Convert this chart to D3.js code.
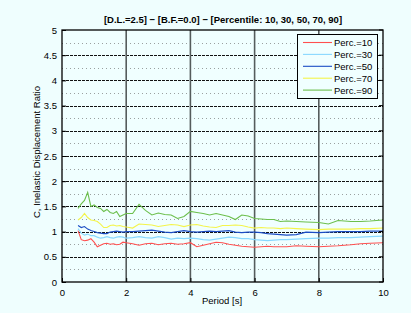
<!DOCTYPE html>
<html><head><meta charset="utf-8">
<script src="https://cdn.jsdelivr.net/npm/d3@7"></script>
<style>
html,body{margin:0;padding:0;background:#effefe;}
svg{display:block;font-family:"Liberation Sans",Arial,sans-serif;}
</style></head>
<body><svg id="c" width="411" height="313"></svg>
<script>
const periods = [0.5,0.6,0.7,0.8,0.9,1.0,1.1,1.2,1.3,1.4,1.5,1.6,1.7,1.8,1.9,2.0,2.2,2.4,2.6,2.8,3.0,3.2,3.4,3.6,3.8,4.0,4.2,4.4,4.6,4.8,5.0,5.2,5.4,5.6,5.8,6.0,6.2,6.4,6.6,6.8,7.0,7.3,7.6,8.0,8.3,8.6,9.0,9.3,9.6,10.0];
const perc10 = [1.02,0.84,0.82,0.83,0.86,0.79,0.70,0.73,0.76,0.77,0.75,0.76,0.74,0.75,0.79,0.78,0.76,0.73,0.76,0.77,0.74,0.76,0.77,0.75,0.76,0.78,0.70,0.73,0.76,0.79,0.78,0.75,0.73,0.71,0.70,0.69,0.70,0.71,0.70,0.70,0.70,0.72,0.71,0.70,0.71,0.72,0.74,0.76,0.77,0.78];
const perc30 = [1.06,0.97,0.93,0.95,0.92,0.92,0.89,0.87,0.88,0.90,0.88,0.87,0.89,0.90,0.89,0.87,0.88,0.90,0.88,0.87,0.90,0.88,0.85,0.87,0.86,0.87,0.86,0.84,0.83,0.85,0.87,0.89,0.88,0.86,0.86,0.84,0.83,0.82,0.83,0.84,0.84,0.85,0.86,0.87,0.87,0.88,0.88,0.89,0.90,0.91];
const perc50 = [1.12,1.08,1.10,1.05,1.02,1.00,0.98,0.97,0.96,0.96,0.99,1.00,1.01,1.00,0.99,1.00,1.00,1.01,1.02,1.03,1.01,0.99,0.98,1.00,1.02,1.00,0.99,1.00,1.01,1.00,1.01,1.02,0.99,0.98,0.99,0.99,0.98,0.96,0.95,0.94,0.93,0.94,0.99,0.98,0.99,1.00,1.00,1.00,1.01,1.01];
const perc70 = [1.23,1.28,1.36,1.28,1.23,1.22,1.20,1.15,1.08,1.08,1.12,1.13,1.11,1.12,1.10,1.09,1.07,1.15,1.14,1.13,1.10,1.12,1.14,1.13,1.10,1.13,1.14,1.11,1.09,1.08,1.12,1.12,1.13,1.12,1.09,1.07,1.08,1.07,1.07,1.06,1.07,1.06,1.05,1.04,1.05,1.05,1.05,1.06,1.06,1.07];
const perc90 = [1.46,1.55,1.62,1.78,1.50,1.53,1.48,1.46,1.40,1.44,1.38,1.36,1.40,1.30,1.33,1.36,1.36,1.54,1.42,1.33,1.37,1.34,1.33,1.26,1.30,1.40,1.38,1.36,1.33,1.36,1.33,1.30,1.24,1.33,1.31,1.26,1.25,1.24,1.24,1.20,1.21,1.20,1.19,1.18,1.15,1.22,1.20,1.20,1.21,1.23];
const seriesNames = ["Perc.=10","Perc.=30","Perc.=50","Perc.=70","Perc.=90"];
const seriesColors = ["#ff5050","#88d8ff","#1a4cc4","#f4f44a","#6cbf4c"];
const xTicks = [0,2,4,6,8,10];
const yTicks = [0,0.5,1,1.5,2,2.5,3,3.5,4,4.5,5];
const yMinor = [0.25,0.75,1.25,1.75,2.25,2.75,3.25,3.75,4.25,4.75];
const title = "[D.L.=2.5] \u2212 [B.F.=0.0] \u2212 [Percentile: 10, 30, 50, 70, 90]";

const svg = d3.select("#c");
const L=62, R=383, T=30, B=282;
const x = d3.scaleLinear().domain([0,10]).range([L,R]);
const y = d3.scaleLinear().domain([0,5]).range([B,T]);

svg.append("rect").attr("width",411).attr("height",313).attr("fill","#effefe");
svg.append("rect").attr("x",L).attr("y",T).attr("width",R-L).attr("height",B-T).attr("fill","#f0ffff");

// minor grid
svg.append("g").selectAll("line").data(yMinor).join("line")
  .attr("x1",L).attr("x2",R).attr("y1",d=>Math.round(y(d))+0.5).attr("y2",d=>Math.round(y(d))+0.5)
  .attr("stroke","#9aa0a0").attr("stroke-width",1).attr("stroke-dasharray","1,3");
// major horizontal grid
svg.append("g").selectAll("line").data(yTicks.filter(d=>d>0&&d<5)).join("line")
  .attr("x1",L).attr("x2",R).attr("y1",d=>Math.round(y(d))+0.5).attr("y2",d=>Math.round(y(d))+0.5)
  .attr("stroke","#111").attr("stroke-width",1.2).attr("stroke-dasharray","3,1");
// vertical grid
svg.append("g").selectAll("line").data(xTicks.filter(d=>d>0&&d<10)).join("line")
  .attr("y1",T).attr("y2",B).attr("x1",d=>x(d)).attr("x2",d=>x(d))
  .attr("stroke","#555c5c").attr("stroke-width",1.6);

// lines
const allSeries = [perc10,perc30,perc50,perc70,perc90];
const line = d3.line().x((d,i)=>x(periods[i])).y(d=>y(d));
allSeries.forEach((s,k)=>{
  svg.append("path").datum(s).attr("d",line).attr("fill","none")
    .attr("stroke",seriesColors[k]).attr("stroke-width",1.1);
});

// frame
svg.append("rect").attr("x",L).attr("y",T).attr("width",R-L).attr("height",B-T)
  .attr("fill","none").attr("stroke","#000").attr("stroke-width",1.3);

// axes
const xa = svg.append("g").attr("transform",`translate(0,${B})`)
  .call(d3.axisBottom(x).tickValues(xTicks).tickSizeInner(-4).tickSizeOuter(0).tickPadding(7).tickFormat(d3.format("d")));
const ya = svg.append("g").attr("transform",`translate(${L},0)`)
  .call(d3.axisLeft(y).tickValues(yTicks).tickSizeInner(-4).tickSizeOuter(0).tickPadding(5).tickFormat(d=>String(d)));
[xa,ya].forEach(a=>{a.select(".domain").remove();
  a.selectAll("text").attr("font-size",9.5).attr("fill","#000").attr("font-family","Liberation Sans, Arial, sans-serif");
  a.selectAll("line").attr("stroke","#000");});
// right ticks
svg.append("g").selectAll("line").data(yTicks).join("line")
  .attr("x1",R).attr("x2",R-4).attr("y1",d=>y(d)).attr("y2",d=>y(d)).attr("stroke","#000");

// title and labels
svg.append("text").attr("x",223).attr("y",23).attr("text-anchor","middle")
  .attr("font-size",9.5).attr("font-weight","bold").text(title);
svg.append("text").attr("x",222).attr("y",304).attr("text-anchor","middle")
  .attr("font-size",9.5).text("Period [s]");
svg.append("text").attr("transform","translate(40,152) rotate(-90)").attr("text-anchor","middle")
  .attr("font-size",9.5).text("C, Inelastic Displacement Ratio");

// legend
const lg = svg.append("g");
lg.append("rect").attr("x",297.5).attr("y",34.5).attr("width",80).attr("height",64)
  .attr("fill","#f0ffff").attr("stroke","#000").attr("stroke-width",1);
seriesNames.forEach((n,i)=>{
  const yy = 42.5 + i*11.9;
  lg.append("line").attr("x1",303).attr("x2",332).attr("y1",yy).attr("y2",yy)
    .attr("stroke",seriesColors[i]).attr("stroke-width",1.1);
  lg.append("text").attr("x",334).attr("y",yy+3.5).attr("font-size",9.5).text(n);
});
</script></body></html>
